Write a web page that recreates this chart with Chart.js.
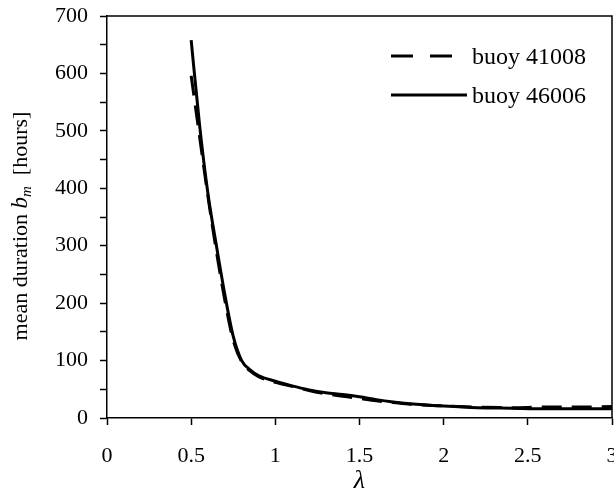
<!DOCTYPE html>
<html>
<head>
<meta charset="utf-8">
<script src="https://cdn.jsdelivr.net/npm/chart.js@4"></script>
<style>
  html, body { margin: 0; padding: 0; background: #fff; }
  #wrap { width: 614px; height: 494px; }
</style>
</head>
<body>
<div id="wrap"><canvas id="myChart" width="614" height="494"></canvas></div>
<script>
// lambda values (x) and mean durations (hours)
const lambdas = [0.5, 0.55, 0.6, 0.65, 0.7, 0.75, 0.8, 0.85, 0.9, 1.0, 1.1, 1.2, 1.3, 1.4, 1.5, 1.6, 1.7, 1.8, 2.0, 2.2, 2.4, 2.6, 2.8, 3.0];
const buoy41008 = [596, 490, 385, 290, 205, 135, 98, 82, 72, 62, 55, 48, 42, 38, 34, 30, 27, 24, 21, 19, 18, 19, 19, 20];
const buoy46006 = [658, 510, 390, 300, 215, 142, 100, 84, 74, 64, 56, 49, 44, 41, 37, 32, 28, 25, 21, 18, 17, 16, 16, 16];
const seriesLabels = ["buoy 41008", "buoy 46006"];
const xTicks = [0, 0.5, 1, 1.5, 2, 2.5, 3];

const serif = "'Liberation Serif', 'Times New Roman', serif";

function toPoints(ys) {
  return lambdas.map((x, i) => ({ x: x, y: ys[i] }));
}

// frame on top/right, in-plot legend and the y title with subscript
const extras = {
  id: "extras",
  afterDraw(chart) {
    const ctx = chart.ctx;
    const a = chart.chartArea;
    ctx.save();
    ctx.strokeStyle = "#000";
    ctx.lineWidth = 1.5;
    ctx.beginPath();
    ctx.moveTo(a.left, a.top);
    ctx.lineTo(a.right, a.top);
    ctx.lineTo(a.right, a.bottom);
    ctx.stroke();

    // legend
    ctx.font = "24px " + serif;
    ctx.fillStyle = "#000";
    ctx.textBaseline = "middle";
    chart.data.datasets.forEach((ds, i) => {
      const y = 56 + i * 39;
      ctx.beginPath();
      ctx.lineWidth = 3;
      ctx.setLineDash(ds.borderDash ? [22, 17] : []);
      ctx.moveTo(391, y);
      ctx.lineTo(i === 0 ? 455 : 467, y);
      ctx.stroke();
      ctx.setLineDash([]);
      ctx.fillText(ds.label, 472, y + 2);
    });

    // y axis title: mean duration b_m [hours]
    ctx.translate(27, 226);
    ctx.rotate(-Math.PI / 2);
    ctx.textBaseline = "alphabetic";
    const parts = [
      { t: "mean duration ", f: "22px " + serif, dy: 0 },
      { t: "b", f: "italic 23px " + serif, dy: 0 },
      { t: "m", f: "italic 15px " + serif, dy: 4 },
      { t: "  [hours]", f: "22px " + serif, dy: 0 }
    ];
    let total = 0;
    parts.forEach((p) => { ctx.font = p.f; total += ctx.measureText(p.t).width; });
    let x = -total / 2;
    ctx.textAlign = "left";
    parts.forEach((p) => {
      ctx.font = p.f;
      ctx.fillText(p.t, x, p.dy);
      x += ctx.measureText(p.t).width;
    });
    ctx.restore();
  }
};

function noPad(s) {
  s.paddingLeft = 0;
  s.paddingRight = 0;
  s.paddingTop = 0;
  s.paddingBottom = 0;
}

const ctx = document.getElementById("myChart").getContext("2d");
const chart = new Chart(ctx, {
  type: "line",
  data: {
    datasets: [
      {
        label: seriesLabels[0],
        data: toPoints(buoy41008),
        borderColor: "#000",
        borderWidth: 3,
        borderDash: [20, 10],
        pointRadius: 0,
        cubicInterpolationMode: "monotone",
        fill: false
      },
      {
        label: seriesLabels[1],
        data: toPoints(buoy46006),
        borderColor: "#000",
        borderWidth: 3,
        pointRadius: 0,
        cubicInterpolationMode: "monotone",
        fill: false
      }
    ]
  },
  options: {
    responsive: false,
    animation: false,
    events: [],
    layout: { padding: { top: 16, right: 2, left: 0, bottom: 0 } },
    plugins: {
      legend: { display: false },
      tooltip: { enabled: false }
    },
    scales: {
      x: {
        type: "linear",
        min: 0,
        max: 3,
        afterFit: (s) => { s.height = 76; noPad(s); },
        afterBuildTicks: (s) => { s.ticks = xTicks.map((v) => ({ value: v })); },
        grid: { display: true, drawOnChartArea: false, drawTicks: true, tickLength: 7, tickWidth: 1.5, tickColor: "#000" },
        border: { display: true, color: "#000", width: 1.5 },
        ticks: {
          color: "#000",
          font: { family: serif, size: 22 },
          padding: 18,
          maxRotation: 0,
          autoSkip: false,
          callback: (v) => String(v)
        },
        title: {
          display: true,
          text: "λ",
          color: "#000",
          font: { family: serif, size: 26, style: "italic", lineHeight: 1 },
          padding: { top: 0, bottom: 0 }
        }
      },
      y: {
        type: "linear",
        min: 0,
        max: 700,
        afterFit: (s) => { s.width = 107; noPad(s); },
        grid: { display: true, drawOnChartArea: false, drawTicks: true, tickLength: 7, tickWidth: 1.5, tickColor: "#000" },
        border: { display: true, color: "#000", width: 1.5 },
        ticks: {
          stepSize: 50,
          color: "#000",
          font: { family: serif, size: 22 },
          padding: 12,
          autoSkip: false,
          callback: (v) => (v % 100 === 0 ? String(v) : "")
        }
      }
    }
  },
  plugins: [extras]
});
</script>
</body>
</html>
